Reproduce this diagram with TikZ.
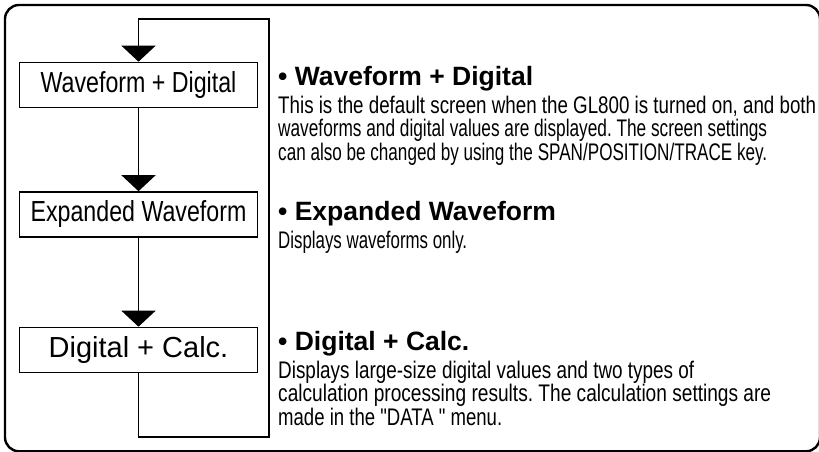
\documentclass[tikz,border=0pt]{standalone}
\usepackage{fontspec}
\setmainfont{Liberation Sans}
\newfontfamily\narrowfont[FakeStretch=0.8]{Liberation Sans}
\usetikzlibrary{arrows.meta, positioning}
\frenchspacing
% one line of description, set to the width it has in the print
\newcommand{\lineto}[2]{\resizebox{#1}{\height}{#2}}
\tikzset{
  mode/.style={rectangle, draw, line width=1.6pt, minimum width=238pt,
    minimum height=45pt, inner sep=0pt, font=\narrowfont\fontsize{29}{29}\selectfont},
  head/.style={anchor=base west, inner sep=0pt, font=\bfseries\fontsize{26.5}{26.5}\selectfont},
  desc/.style={anchor=north west, align=left, inner sep=0pt,
    font=\narrowfont\fontsize{24}{23.5}\selectfont},
  flow/.style={-{Triangle[width=34pt, length=16pt]}, line width=1.5pt},
  frame/.style={line width=2.4pt, rounded corners=14pt}
}

\begin{document}
\begin{tikzpicture}[x=1pt, y=1pt]
\useasboundingbox (0,0) rectangle (819,451);

% ---- marco ----
\draw[frame] (5,-0.3) rectangle (820,446);

% ---- pantallas (izquierda) ----
\node[mode] (wd) at (138.5,366) {Waveform + Digital};
\node[mode] (ew) at (138.5,236.5) {Expanded Waveform};
\node[mode, font=\fontsize{29}{29}\selectfont] (dc) at (138.5,101) {Digital + Calc.};

% ---- descripciones (derecha) ----
\node[head] (wdhead) at (278,366) {\textbullet\ Waveform + Digital};
\node[desc] (wdtext) at ([yshift=-10.5pt]wdhead.base west) {%
\lineto{538pt}{This is the default screen when the GL800 is turned on, and both}\\
\lineto{489pt}{waveforms and digital values are displayed. The screen settings}\\
\lineto{489pt}{can also be changed by using the SPAN/POSITION/TRACE key.}};

\node[head] (ewhead) at (278,231) {\textbullet\ Expanded Waveform};
\node[desc] (ewtext) at ([yshift=-10.5pt]ewhead.base west) {%
\lineto{189pt}{Displays waveforms only.}};

\node[head] (dchead) at (278,101) {\textbullet\ Digital + Calc.};
\node[desc] (dctext) at ([yshift=-10.5pt]dchead.base west) {%
\lineto{416pt}{Displays large-size digital values and two types of}\\
\lineto{493pt}{calculation processing results. The calculation settings are}\\
\lineto{224pt}{made in the "DATA " menu.}};

% ---- conexiones ----
\coordinate (retlow) at (269,14);
\coordinate (rethigh) at (269,432);

\draw[flow] (wd) -- (ew);
\draw[flow] (ew) -- (dc);
\draw[flow] (dc.south) |- (retlow) -- (rethigh) -| (wd.north);

\end{tikzpicture}
\end{document}
